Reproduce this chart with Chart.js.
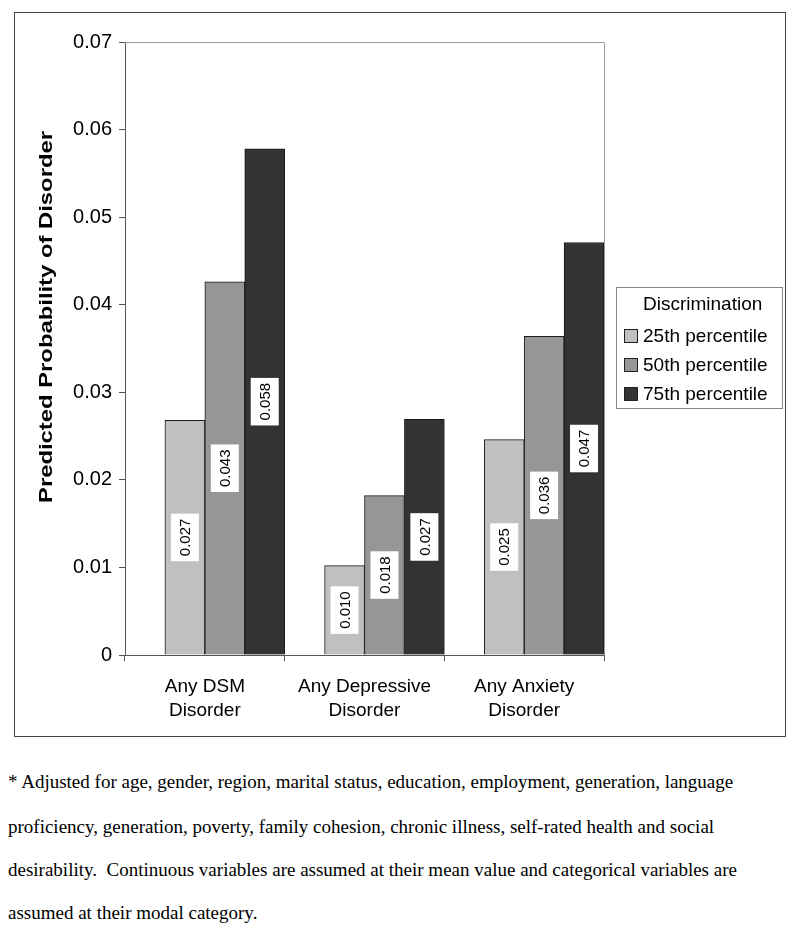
<!DOCTYPE html>
<html>
<head>
<meta charset="utf-8">
<script src="https://cdn.jsdelivr.net/npm/chart.js@4/dist/chart.umd.min.js"></script>
<style>
  html, body { margin: 0; padding: 0; background: #fff; }
  body { width: 800px; height: 933px; position: relative; overflow: hidden; }
  #frame { position: absolute; left: 14px; top: 12px; width: 772px; height: 725px; border: 1px solid #444; box-sizing: border-box; }
  #wrap { position: absolute; left: 0; top: 0; width: 800px; height: 740px; }
  #legend { position: absolute; left: 616px; top: 287px; width: 167px; height: 122px; border: 1px solid #888; box-sizing: border-box; font-family: "Liberation Sans", Arial, sans-serif; font-size: 19px; color: #000; }
  #legend .title { position: absolute; left: 26px; top: 4px; line-height: 24px; }
  #legend .item { position: absolute; left: 7px; line-height: 24px; white-space: nowrap; }
  #legend .sw { display: inline-block; width: 12px; height: 12px; border: 1px solid #222; vertical-align: middle; margin-right: 5px; position: relative; top: -1px; }
  .note { position: absolute; left: 8px; font-family: "Liberation Serif", "Times New Roman", serif; font-size: 19px; line-height: 22px; color: #000; white-space: pre; }
</style>
</head>
<body>
<div id="frame"></div>
<div id="wrap"><canvas id="c" width="800" height="740"></canvas></div>
<div id="legend"></div>
<div id="notes"></div>
<script>
// ---- data ----
const categories = [["Any DSM", "Disorder"], ["Any Depressive", "Disorder"], ["Any Anxiety", "Disorder"]];
const legendTitle = "Discrimination";
const seriesNames = ["25th percentile", "50th percentile", "75th percentile"];
const p25 = [0.0268, 0.0102, 0.0246];
const p50 = [0.0426, 0.0182, 0.0364];
const p75 = [0.0578, 0.0269, 0.0471];
const yMin = 0, yMax = 0.07, yStep = 0.01;
const yTitle = "Predicted Probability of Disorder";
const footnotes = [
  "* Adjusted for age, gender, region, marital status, education, employment, generation, language",
  "proficiency, generation, poverty, family cohesion, chronic illness, self-rated health and social",
  "desirability.  Continuous variables are assumed at their mean value and categorical variables are",
  "assumed at their modal category."
];

const colors = ["#c0c0c0", "#969696", "#333333"];
const seriesValues = [p25, p50, p75];

// spacer dataset occupies the left slot of each category (as in the original layout)
const datasets = [{ label: "", data: categories.map(() => null), backgroundColor: "rgba(0,0,0,0)", borderWidth: 0, spacer: true }];
seriesValues.forEach((vals, i) => {
  datasets.push({ label: seriesNames[i], data: vals, backgroundColor: colors[i], borderColor: "#1a1a1a", borderWidth: 1 });
});

const FONT = "'Liberation Sans', Arial, sans-serif";

const framePlugin = {
  id: "frame",
  afterDraw(chart) {
    const { ctx, chartArea: a } = chart;
    ctx.save();
    ctx.strokeStyle = "#9a9a9a";
    ctx.lineWidth = 1;
    ctx.beginPath();
    ctx.moveTo(a.left, a.top + 0.5);
    ctx.lineTo(a.right + 0.5, a.top + 0.5);
    ctx.lineTo(a.right + 0.5, a.bottom);
    ctx.stroke();
    // y-axis title
    ctx.translate(47, 317);
    ctx.rotate(-Math.PI / 2);
    ctx.font = "bold 19px " + FONT;
    const w = ctx.measureText(yTitle).width;
    ctx.scale(372 / w, 1);
    ctx.fillStyle = "#000";
    ctx.textAlign = "center";
    ctx.textBaseline = "middle";
    ctx.fillText(yTitle, 0, 0);
    ctx.restore();
  }
};

const labelPlugin = {
  id: "barLabels",
  afterDatasetsDraw(chart) {
    const { ctx } = chart;
    ctx.save();
    ctx.font = "15px " + FONT;
    chart.data.datasets.forEach((ds, di) => {
      if (ds.spacer) return;
      const meta = chart.getDatasetMeta(di);
      meta.data.forEach((el, i) => {
        const v = ds.data[i];
        if (v == null) return;
        const txt = v.toFixed(3);
        const cx = el.x, cy = (el.y + el.base) / 2;
        const w = ctx.measureText(txt).width;
        ctx.save();
        ctx.translate(cx, cy);
        ctx.rotate(-Math.PI / 2);
        const bw = w + 10, bh = 28;
        ctx.fillStyle = "#fff";
        ctx.fillRect(-bw / 2, -bh / 2, bw, bh);
        ctx.fillStyle = "#000";
        ctx.textAlign = "center";
        ctx.textBaseline = "middle";
        ctx.fillText(txt, 0, 1);
        ctx.restore();
      });
    });
    ctx.restore();
  }
};

new Chart(document.getElementById("c"), {
  type: "bar",
  data: { labels: categories, datasets },
  options: {
    responsive: false,
    animation: false,
    devicePixelRatio: 1,
    layout: { padding: { left: 0, top: 42, right: 196, bottom: 0 } },
    datasets: { bar: { categoryPercentage: 1, barPercentage: 1 } },
    plugins: { legend: { display: false }, tooltip: { enabled: false } },
    scales: {
      x: {
        afterFit(s) { s.height = 85; },
        grid: { display: true, offset: true, drawOnChartArea: false, drawTicks: true, tickLength: 6, color: "#555" },
        border: { display: true, color: "#555", width: 1 },
        ticks: { color: "#000", font: { family: FONT, size: 19, lineHeight: 1.3 }, padding: 13, maxRotation: 0, autoSkip: false }
      },
      y: {
        min: yMin, max: yMax,
        afterFit(s) { s.width = 125; },
        grid: { display: true, drawOnChartArea: false, drawTicks: true, tickLength: 6, color: "#555" },
        border: { display: true, color: "#555", width: 1 },
        ticks: {
          stepSize: yStep, color: "#000", font: { family: FONT, size: 20 }, padding: 7,
          callback: (v) => (Math.abs(v) < 1e-9 ? "0" : Number(v).toFixed(2))
        }
      }
    }
  },
  plugins: [framePlugin, labelPlugin]
});

// legend (HTML, real text)
const lg = document.getElementById("legend");
let html = '<div class="title">' + legendTitle + '</div>';
seriesNames.forEach((n, i) => {
  html += '<div class="item" style="top:' + (36 + i * 29) + 'px"><span class="sw" style="background:' + colors[i] + '"></span>' + n + '</div>';
});
lg.innerHTML = html;

// footnotes
const notes = document.getElementById("notes");
const noteY = [783, 828, 871, 914];
footnotes.forEach((t, i) => {
  const d = document.createElement("div");
  d.className = "note";
  d.textContent = t;
  d.style.top = (noteY[i] - 12) + "px";
  notes.appendChild(d);
});
</script>
</body>
</html>
